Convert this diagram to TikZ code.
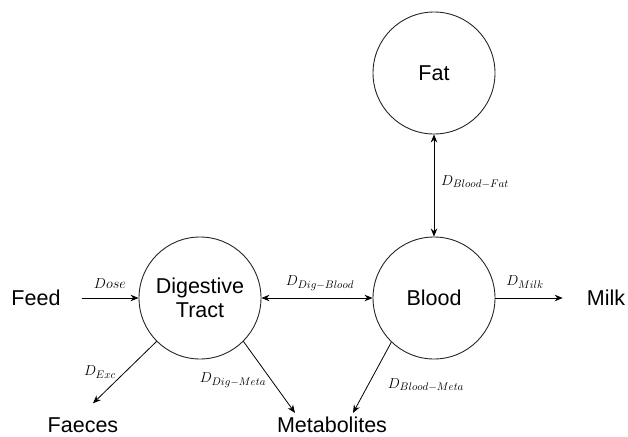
\documentclass[tikz,border=0pt]{standalone}
\usepackage{fontspec}
\setmainfont{Liberation Sans}
\usetikzlibrary{arrows.meta}
\begin{document}
\begin{tikzpicture}[x=1pt,y=-1pt,
  state/.style={circle,draw=black!85,line width=0.9pt,minimum size=122pt,inner sep=0pt,align=center,font=\fontsize{21.5}{24}\selectfont},
  ext/.style={font=\fontsize{21.5}{24}\selectfont,inner sep=1pt},
  flow/.style={-{Stealth[length=8pt,width=6.5pt]},line width=0.8pt},
  biflow/.style={{Stealth[length=8pt,width=6.5pt]}-{Stealth[length=8pt,width=6.5pt]},line width=0.8pt},
  lab/.style={font=\fontsize{15.5}{18}\selectfont}]
\useasboundingbox (0,0) rectangle (628,436);
\node[state] (dig) at (200,298) {Digestive\\Tract};
\node[state] (blood) at (434,298) {Blood};
\node[state] (fat) at (434,73) {Fat};
\node[ext] (feed) at (36,298) {Feed};
\node[ext] (milk) at (606,298) {Milk};
\node[ext] (faeces) at (83,425) {Faeces};
\node[ext] (meta) at (332,425) {Metabolites};

\draw[flow,shorten <=20pt] (feed) -- (dig);
\draw[biflow] (dig) -- (blood);
\draw[biflow] (fat) -- (blood);
\draw[flow,shorten >=23pt] (blood) -- (milk);
\draw[flow] (dig.225) -- ([shift={(10,-13)}]faeces.north);
\draw[flow] (dig.-45) -- ([shift={(-37,-3)}]meta.north);
\draw[flow] (blood.226) -- ([shift={(21,-3)}]meta.north);

\node[lab] (ldose) at (110,284) {$Dose$};
\node[lab] (ldigblood) at (320,283) {$D_{Dig-Blood}$};
\node[lab] (lmilk) at (525,282) {$D_{Milk}$};
\node[lab] (lbloodfat) at (475,182) {$D_{Blood-Fat}$};
\node[lab] (lexc) at (100,372) {$D_{Exc}$};
\node[lab] (ldigmeta) at (233,380) {$D_{Dig-Meta}$};
\node[lab] (lbloodmeta) at (426,385) {$D_{Blood-Meta}$};
\end{tikzpicture}
\end{document}
